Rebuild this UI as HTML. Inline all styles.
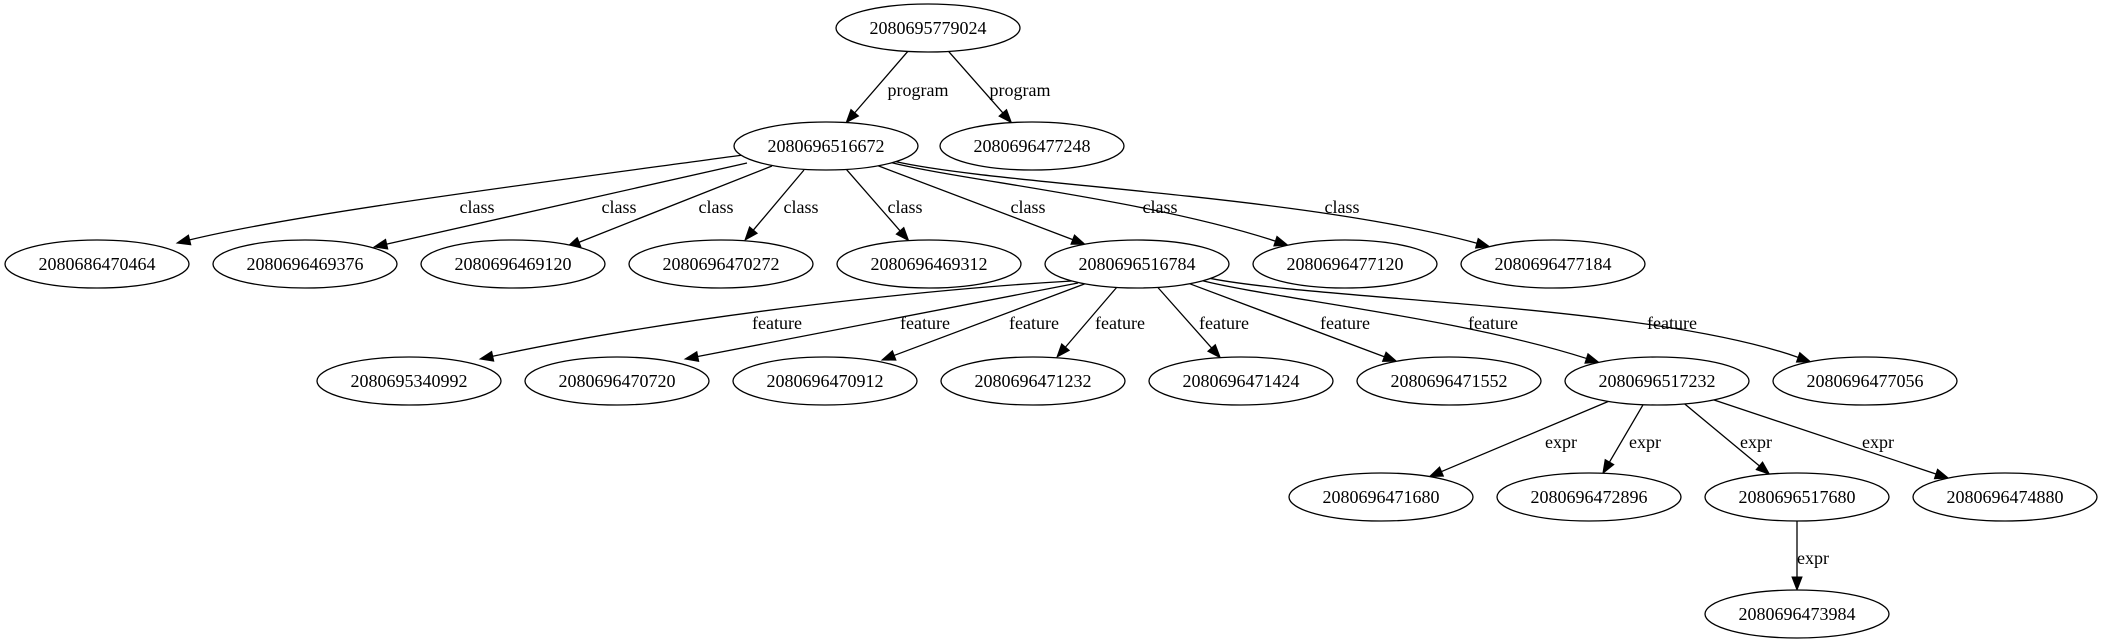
<!DOCTYPE html>
<html><head><meta charset="utf-8"><style>
html,body{margin:0;padding:0;background:#fff;}
svg{display:block;}
text{font-family:"Liberation Serif",serif;font-size:18px;fill:#000;}
</style></head><body>
<svg id="g" width="2103" height="644" viewBox="0 0 2103 644" xmlns="http://www.w3.org/2000/svg"></svg>
<script>
const RX=92,RY=24;
const N={
r:[928,28,"2080695779024"],
a:[826,146,"2080696516672"],b:[1032,146,"2080696477248"],
c1:[97,264,"2080686470464"],c2:[305,264,"2080696469376"],c3:[513,264,"2080696469120"],c4:[721,264,"2080696470272"],
c5:[929,264,"2080696469312"],c6:[1137,264,"2080696516784"],c7:[1345,264,"2080696477120"],c8:[1553,264,"2080696477184"],
d1:[409,381,"2080695340992"],d2:[617,381,"2080696470720"],d3:[825,381,"2080696470912"],d4:[1033,381,"2080696471232"],
d5:[1241,381,"2080696471424"],d6:[1449,381,"2080696471552"],d7:[1657,381,"2080696517232"],d8:[1865,381,"2080696477056"],
e1:[1381,497,"2080696471680"],e2:[1589,497,"2080696472896"],e3:[1797,497,"2080696517680"],e4:[2005,497,"2080696474880"],
f1:[1797,614,"2080696473984"]};
const E=[
["r","a","program",918,90],["r","b","program",1020,90],
["a","c1","class",477,207,[560,180,300,213],[743,155,177,243]],["a","c2","class",619,207,null,[747,163,374,247]],
["a","c3","class",716,207,null,[772,166,567,247]],["a","c4","class",801,207,null,[804,170,745,240]],
["a","c5","class",905,207],["a","c6","class",1028,207],["a","c7","class",1160,207,[960,180,1150,200]],["a","c8","class",1342,207,[1000,185,1300,195]],
["c6","d1","feature",777,323,[950,288,700,312],[1072,281,480,359]],["c6","d2","feature",925,323,null,[1078,283,685,359]],
["c6","d3","feature",1034,323,null,[1087,283,882,360]],["c6","d4","feature",1120,323,null,[1117,287,1057,357]],
["c6","d5","feature",1224,323],["c6","d6","feature",1345,323],["c6","d7","feature",1493,323,[1270,298,1460,318]],["c6","d8","feature",1672,323,[1320,300,1650,305]],
["d7","e1","expr",1561,442],["d7","e2","expr",1645,442],["d7","e3","expr",1756,442],["d7","e4","expr",1878,442],
["e3","f1","expr",1813,558]];
const svg=document.getElementById('g');let h='';
function bnd(n,tx,ty){const dx=tx-n[0],dy=ty-n[1];const t=1/Math.sqrt(dx*dx/(RX*RX)+dy*dy/(RY*RY));return [n[0]+dx*t,n[1]+dy*t];}
const AL=13,AW=5;
for(const e of E){const p=N[e[0]],c=N[e[1]];const q=e[5],x=e[6];
 let s,t,dx,dy,path;
 if(x){s=[x[0],x[1]];t=[x[2],x[3]];}
 else if(q){s=bnd(p,q[0],q[1]);t=bnd(c,q[2],q[3]);}
 else{s=bnd(p,c[0],c[1]);t=bnd(c,p[0],p[1]);}
 if(q){dx=t[0]-q[2];dy=t[1]-q[3];}else{dx=t[0]-s[0];dy=t[1]-s[1];}
 const L=Math.hypot(dx,dy);dx/=L;dy/=L;
 const b=[t[0]-dx*AL,t[1]-dy*AL];
 if(q)path=`M${s[0]},${s[1]} C${q[0]},${q[1]} ${q[2]},${q[3]} ${b[0]},${b[1]}`;
 else path=`M${s[0]},${s[1]} L${b[0]},${b[1]}`;
 h+=`<path d="${path}" fill="none" stroke="#000" stroke-width="1.3"/>`;
 h+=`<polygon points="${t[0]},${t[1]} ${b[0]-dy*AW},${b[1]+dx*AW} ${b[0]+dy*AW},${b[1]-dx*AW}" fill="#000" stroke="#000"/>`;
 h+=`<text x="${e[3]}" y="${e[4]+6}" text-anchor="middle">${e[2]}</text>`;}
for(const k in N){const n=N[k];h+=`<ellipse cx="${n[0]}" cy="${n[1]}" rx="${RX}" ry="${RY}" fill="#fff" stroke="#000" stroke-width="1.3"/><text x="${n[0]}" y="${n[1]+6}" text-anchor="middle">${n[2]}</text>`;}
svg.innerHTML=h;
</script>
</body></html>
